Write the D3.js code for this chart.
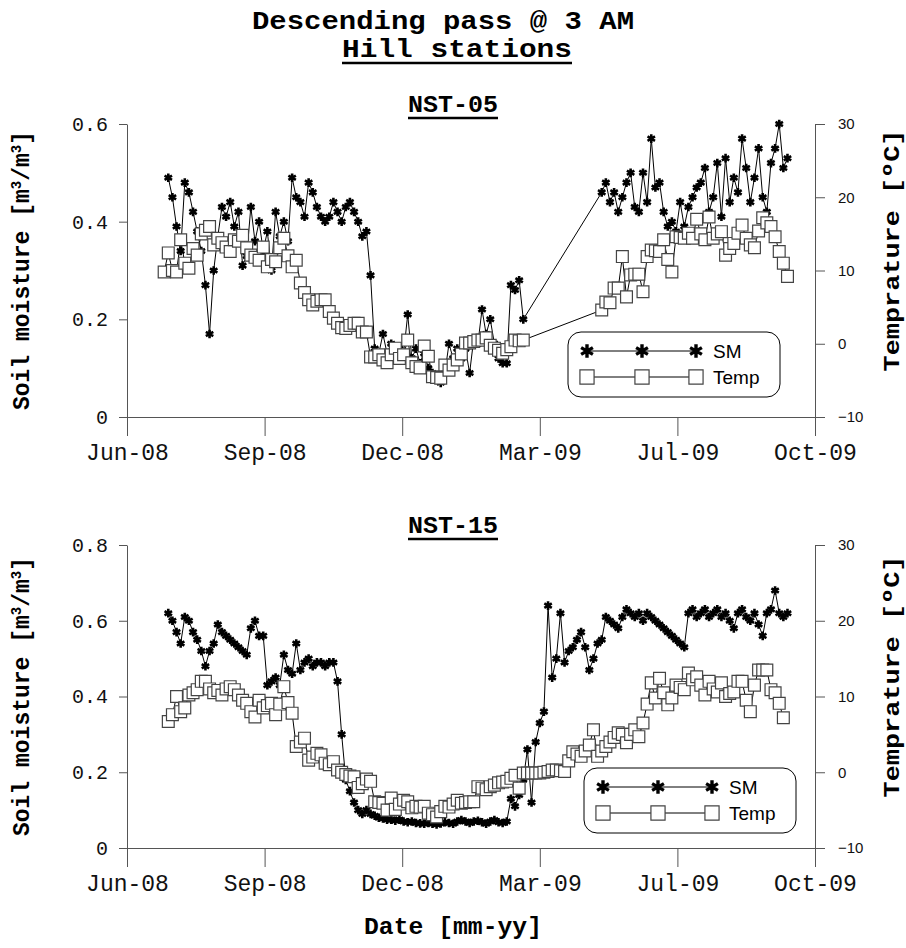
<!DOCTYPE html>
<html>
<head>
<meta charset="utf-8">
<script src="https://cdn.jsdelivr.net/npm/d3@7"></script>
<style>
  body { margin: 0; background: #fff; }
  svg { display: block; }
</style>
</head>
<body>
<div id="chart"></div>
<script>
// samples every 3 days from 28 Jun 2008 (null = no reading)
const sampleStart = "2008-06-28";
const sampleStepDays = 3;

const nst05Sm = [null,
  0.49,0.45,0.39,0.34,0.48,0.46,0.42,0.38,0.34,0.27,
  0.17,0.30,0.37,0.43,0.41,0.44,0.39,0.42,0.31,0.33,
  0.43,0.36,0.40,0.34,0.38,0.30,0.42,0.37,0.40,0.36,
  0.49,0.45,0.44,0.41,0.48,0.46,0.43,0.41,0.40,0.41,
  0.44,0.42,0.40,0.43,0.44,0.42,0.40,0.37,0.38,0.29,
  0.14,0.13,0.17,0.13,0.15,0.12,0.14,0.13,0.21,0.12,
  0.14,0.11,0.13,0.10,0.09,0.08,0.07,0.09,0.15,0.12,
  0.14,0.12,0.14,0.09,0.16,0.15,0.22,0.17,0.20,0.15,
  0.12,0.11,0.11,0.27,0.26,0.28,0.20,
  null,null,null,null,null,null,null,null,null,null,null,null,null,null,null,null,null,null,
  0.46,0.48,0.44,0.46,0.42,0.45,0.48,0.50,0.43,0.42,
  0.50,0.44,0.57,0.47,0.48,0.42,0.39,0.40,0.38,0.44,
  0.39,0.43,0.45,0.47,0.48,0.51,0.42,0.45,0.52,0.41,
  0.53,0.44,0.49,0.46,0.57,0.51,0.44,0.49,0.55,0.45,
  0.42,0.52,0.55,0.60,0.51,0.53];

const nst05Temp = [
  9.8,12.4,10.0,9.8,14.2,11.0,10.3,13.0,12.1,15.0,
  15.5,16.0,13.5,14.4,13.8,13.2,12.6,14.2,14.0,14.8,
  13.1,12.1,11.8,11.4,13.2,10.5,11.5,11.2,13.1,14.4,
  12.0,10.5,11.4,8.3,7.0,6.0,5.3,5.8,6.0,6.0,
  4.4,3.5,2.8,2.2,2.1,2.5,2.8,2.8,1.6,1.6,
  -1.8,-1.8,-1.5,-2.2,-2.6,-1.5,-0.6,-2.0,-1.5,0.5,
  -2.6,-3.1,-3.3,-0.3,-1.7,-4.5,-4.6,-4.7,-2.9,-3.6,
  -2.9,-2.2,-1.4,0.1,0.1,0.3,0.5,0.5,0.8,-0.2,
  -0.6,-0.9,-1.3,-0.8,-0.4,0.5,0.4,0.5,
  null,null,null,null,null,null,null,null,null,null,null,null,null,null,null,null,null,null,
  4.6,5.7,5.6,7.6,7.6,11.9,6.4,9.4,9.5,9.5,
  7.1,11.9,12.8,12.7,12.6,14.2,11.5,9.8,14.6,14.5,
  14.4,15.1,14.4,17.0,15.0,14.2,17.3,14.4,15.0,15.3,
  12.1,13.0,13.7,15.1,16.2,14.4,13.5,13.1,15.4,17.2,
  16.5,16.0,14.6,12.6,11.0,9.2];

const nst15Sm = [null,
  0.62,0.60,0.57,0.54,0.61,0.60,0.57,0.55,0.52,0.48,
  0.52,0.54,0.59,0.57,0.56,0.55,0.54,0.53,0.52,0.51,
  0.58,0.60,0.56,0.56,0.43,0.44,0.45,0.43,0.51,0.47,
  0.46,0.54,0.47,0.49,0.50,0.48,0.49,0.49,0.48,0.49,
  0.49,0.44,0.30,0.18,0.15,0.12,0.10,0.09,0.10,0.09,
  0.085,0.08,0.078,0.075,0.075,0.072,0.075,0.07,0.068,0.07,
  0.066,0.065,0.064,0.066,0.064,0.062,0.065,0.068,0.066,0.064,
  0.07,0.074,0.07,0.066,0.07,0.072,0.068,0.064,0.07,0.074,
  0.068,0.066,0.07,0.13,0.11,0.14,0.18,0.26,0.12,0.28,
  0.33,0.36,0.64,0.45,0.50,0.62,0.49,0.52,0.53,0.55,
  0.57,0.53,0.47,0.50,0.54,0.55,0.61,0.60,0.59,0.58,
  0.61,0.63,0.62,0.61,0.62,0.60,0.62,0.61,0.60,0.59,
  0.58,0.57,0.56,0.55,0.54,0.53,0.62,0.63,0.61,0.62,
  0.63,0.61,0.62,0.63,0.61,0.62,0.60,0.58,0.62,0.63,
  0.61,0.60,0.62,0.59,0.56,0.62,0.63,0.68,0.62,0.61,
  0.62];

const nst15Temp = [null,
  6.7,7.6,10.0,8.0,8.5,10.2,10.5,10.9,12.0,12.0,
  11.0,10.5,10.8,10.2,11.0,11.3,10.9,10.2,9.5,9.1,
  8.0,7.3,9.5,8.5,8.8,9.1,7.6,9.0,11.3,9.2,
  7.8,3.4,4.0,4.5,1.6,2.0,2.5,2.3,1.2,1.0,
  1.4,0.3,0.0,-0.3,-0.5,-0.6,-2.0,-1.5,-0.9,-1.2,
  -3.9,-4.0,-4.1,-5.0,-3.4,-4.9,-4.2,-3.7,-3.9,-4.7,
  -4.5,-4.6,-4.5,-5.4,-5.6,-5.9,-5.2,-4.5,-4.6,-4.2,
  -3.7,-4.1,-4.0,-3.9,-3.9,-1.9,-2.1,-2.3,-1.9,-1.7,
  -1.4,-1.3,-1.2,-0.8,-0.4,-2.1,-0.1,-0.1,-0.1,-0.1,
  -0.1,0.0,0.1,0.3,0.3,0.2,0.1,1.5,2.7,2.4,
  2.1,2.8,3.6,5.6,2.1,2.8,3.4,4.0,4.6,5.2,
  5.0,3.9,5.0,5.6,4.7,6.5,9.0,11.8,9.8,12.4,
  10.5,8.9,9.8,11.5,11.2,10.9,13.1,12.2,12.6,11.5,
  10.2,12.0,11.0,10.6,11.8,10.0,10.4,10.6,12.0,12.0,
  9.5,8.0,11.5,13.5,13.5,13.5,10.9,10.5,9.1,7.2,
  null];

// axis: Excel date axis, major unit 100 days
const xTickDates = ["2008-06-01","2008-09-09","2008-12-18","2009-03-28","2009-07-06","2009-10-14"];
const smTicksTop = [0, 0.2, 0.4, 0.6];
const smTicksBottom = [0, 0.2, 0.4, 0.6, 0.8];
const tempTicks = [-10, 0, 10, 20, 30];

const panels = [
  { name: "NST-05", sm: nst05Sm, temp: nst05Temp, smMax: 0.6, smTicks: smTicksTop, top: 124, bottom: 417, legend: [568, 332] },
  { name: "NST-15", sm: nst15Sm, temp: nst15Temp, smMax: 0.8, smTicks: smTicksBottom, top: 545, bottom: 848, legend: [584, 768] }
];

const W = 906, H = 948;
const left = 127, right = 815;
const mono = "'Liberation Mono', 'Courier New', monospace";
const sans = "'Liberation Sans', Arial, sans-serif";

const parse = d3.utcParse("%Y-%m-%d");
const t0 = parse(sampleStart);
const sampleDate = i => d3.utcDay.offset(t0, i * sampleStepDays);

const svg = d3.select("#chart").append("svg")
  .attr("width", W).attr("height", H);

const x = d3.scaleUtc()
  .domain([parse(xTickDates[0]), parse(xTickDates[xTickDates.length - 1])])
  .range([left, right]);

// Titles (the original's Courier is wide and short, so stretch a bit)
function boldText(txt, cx, y, size, width) {
  const t = svg.append("text")
    .attr("x", cx).attr("y", y)
    .attr("text-anchor", "middle")
    .style("font-family", mono).style("font-weight", "bold")
    .style("font-size", size + "px")
    .text(txt);
  if (width) t.attr("textLength", width).attr("lengthAdjust", "spacingAndGlyphs");
  return t;
}
function underlinedText(txt, cx, y, size, width) {
  const t = boldText(txt, cx, y, size, width);
  const w = width || t.node().getComputedTextLength();
  svg.append("line")
    .attr("x1", cx - w / 2).attr("x2", cx + w / 2)
    .attr("y1", y + 6).attr("y2", y + 6)
    .attr("stroke", "#000").attr("stroke-width", 2.5);
}

boldText("Descending pass @ 3 AM", 443, 29, 25, 382);
underlinedText("Hill stations", 457, 57, 25, 230);

panels.forEach(p => {
  const ySm = d3.scaleLinear().domain([0, p.smMax]).range([p.bottom, p.top]);
  const yT = d3.scaleLinear().domain([-10, 30]).range([p.bottom, p.top]);
  const g = svg.append("g");

  underlinedText(p.name, 453, p.top - 12, 23, 90);

  // axes
  const ax = g.append("g")
    .attr("transform", `translate(0,${p.bottom})`)
    .call(d3.axisBottom(x).tickValues(xTickDates.map(parse))
      .tickFormat(d3.utcFormat("%b-%y")).tickSize(19).tickSizeOuter(0).tickPadding(8));
  const al = g.append("g")
    .attr("transform", `translate(${left},0)`)
    .call(d3.axisLeft(ySm).tickValues(p.smTicks)
      .tickFormat(d => d === 0 ? "0" : d3.format(".1f")(d)).tickSize(8).tickSizeOuter(0).tickPadding(11));
  const ar = g.append("g")
    .attr("transform", `translate(${right},0)`)
    .call(d3.axisRight(yT).tickValues(tempTicks).tickSize(10).tickSizeOuter(0).tickPadding(13));

  [ax, al, ar].forEach(a => {
    a.selectAll("path, line").attr("stroke", "#555");
    a.selectAll("text").attr("fill", "#111");
  });
  ax.selectAll("text").style("font-family", mono).style("font-size", "23px");
  al.selectAll("text").style("font-family", mono).style("font-size", "20px");
  ar.selectAll("text").style("font-family", sans).style("font-size", "15px");

  // axis titles
  const midY = (p.top + p.bottom) / 2;
  const lt = g.append("text")
    .attr("transform", `translate(29,${midY}) rotate(-90)`)
    .attr("text-anchor", "middle")
    .style("font-family", mono).style("font-weight", "bold").style("font-size", "23px");
  lt.append("tspan").text("Soil moisture [m");
  lt.append("tspan").attr("dy", -8).style("font-size", "14px").text("3");
  lt.append("tspan").attr("dy", 8).text("/m");
  lt.append("tspan").attr("dy", -8).style("font-size", "14px").text("3");
  lt.append("tspan").attr("dy", 8).text("]");

  g.append("text")
    .attr("transform", `translate(899,${midY - 20}) rotate(-90)`)
    .attr("text-anchor", "middle")
    .style("font-family", mono).style("font-weight", "bold").style("font-size", "22px")
    .attr("textLength", 242).attr("lengthAdjust", "spacingAndGlyphs")
    .text("Temprature [ºC]");

  // series
  const smPts = p.sm.map((v, i) => ({ date: sampleDate(i), v })).filter(d => d.v !== null);
  const tPts = p.temp.map((v, i) => ({ date: sampleDate(i), v })).filter(d => d.v !== null);

  g.append("path").datum(smPts)
    .attr("fill", "none").attr("stroke", "#000").attr("stroke-width", 1)
    .attr("d", d3.line().x(d => x(d.date)).y(d => ySm(d.v)));
  g.selectAll(".sm").data(smPts).enter().append("path")
    .attr("transform", d => `translate(${x(d.date)},${ySm(d.v)})`)
    .attr("d", d3.symbol(d3.symbolAsterisk, 52))
    .attr("fill", "none").attr("stroke", "#000").attr("stroke-width", 2.6);

  g.append("path").datum(tPts)
    .attr("fill", "none").attr("stroke", "#000").attr("stroke-width", 1)
    .attr("d", d3.line().x(d => x(d.date)).y(d => yT(d.v)));
  g.selectAll(".tm").data(tPts).enter().append("path")
    .attr("transform", d => `translate(${x(d.date)},${yT(d.v)})`)
    .attr("d", d3.symbol(d3.symbolSquare, 140))
    .attr("fill", "#fff").attr("stroke", "#444").attr("stroke-width", 1.2);

  // legend
  const lg = g.append("g").attr("transform", `translate(${p.legend[0]},${p.legend[1]})`);
  lg.append("rect").attr("width", 212).attr("height", 65).attr("rx", 13)
    .attr("fill", "#fff").attr("stroke", "#000").attr("stroke-width", 1);
  const mx = [19, 74, 128];
  lg.append("line").attr("x1", mx[0]).attr("x2", mx[2]).attr("y1", 19).attr("y2", 19)
    .attr("stroke", "#000").attr("stroke-width", 1);
  mx.forEach(m => lg.append("path").attr("transform", `translate(${m},19)`)
    .attr("d", d3.symbol(d3.symbolAsterisk, 130)).attr("fill", "none")
    .attr("stroke", "#000").attr("stroke-width", 3.4));
  lg.append("line").attr("x1", mx[0]).attr("x2", mx[2]).attr("y1", 45).attr("y2", 45)
    .attr("stroke", "#000").attr("stroke-width", 1);
  mx.forEach(m => lg.append("path").attr("transform", `translate(${m},45)`)
    .attr("d", d3.symbol(d3.symbolSquare, 200)).attr("fill", "#fff")
    .attr("stroke", "#444").attr("stroke-width", 1.2));
  lg.append("text").attr("x", 145).attr("y", 26).text("SM")
    .style("font-family", sans).style("font-size", "19px");
  lg.append("text").attr("x", 145).attr("y", 52).text("Temp")
    .style("font-family", sans).style("font-size", "19px");
});

boldText("Date [mm-yy]", 453, 934, 23, 178);
</script>
</body>
</html>
